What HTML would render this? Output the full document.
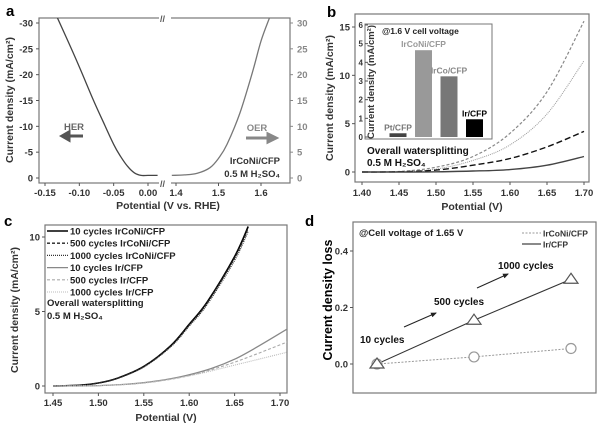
<!DOCTYPE html>
<html><head><meta charset="utf-8"><style>
html,body{margin:0;padding:0;background:#fff}
svg{display:block;font-family:"Liberation Sans",sans-serif;font-weight:bold}
</style></head><body>
<svg id="fig" width="600" height="427" viewBox="0 0 600 427"></svg>
<script>
// ---- data ----
const herV=[-0.132,-0.12,-0.10,-0.08,-0.065,-0.05,-0.04,-0.03,-0.02,-0.01,0.0,0.014];
const herJ=[31,27.5,21.5,15.2,10.8,6.5,4.2,2.3,1.0,0.5,0.5,0.5];
const oerV=[1.39,1.42,1.45,1.48,1.5,1.52,1.55,1.58,1.6,1.62];
const oerJ=[0.5,0.6,0.9,2,3.8,6.5,12.5,20.5,26.5,31];
const bV=[1.40,1.45,1.50,1.55,1.60,1.65,1.70];
const bShortDash=[0,0.05,0.5,1.6,4,8.3,15.6];
const bDotted=[0,0.04,0.3,1.2,2.8,6,11.5];
const bLongDash=[0,0.02,0.2,0.7,1.4,2.6,4.2];
const bSolid=[0,0,0.02,0.1,0.25,0.7,1.6];
const insetCats=["Pt/CFP","IrCoNi/CFP","IrCo/CFP","Ir/CFP"];
const insetVals=[0.2,4.65,3.25,0.95];
const cV=[1.45,1.48,1.50,1.52,1.55,1.58,1.60,1.62,1.65,1.665];
const cIrCoNi=[0,0.05,0.2,0.5,1.3,2.7,4.1,5.6,8.6,10.6];
const cV2=[1.45,1.50,1.55,1.60,1.65,1.71];
const cIr10=[0,0.03,0.22,0.75,1.8,3.9];
const cIr500=[0,0.03,0.2,0.7,1.6,3.0];
const cIr1000=[0,0.03,0.2,0.68,1.4,2.3];
const dCycles=[10,500,1000];
const dIr=[0,0.155,0.3];
const dIrCoNi=[0,0.025,0.055];

const S=document.getElementById('fig');
const NS='http://www.w3.org/2000/svg';
function el(t,a,txt,p){const e=document.createElementNS(NS,t);for(const k in a)e.setAttribute(k,a[k]);if(txt!=null)e.textContent=txt;(p||S).appendChild(e);return e;}
function lin(d0,d1,r0,r1){return v=>r0+(v-d0)*(r1-r0)/(d1-d0);}
function path(xs,ys,fx,fy){return xs.map((x,i)=>(i?'L':'M')+fx(x).toFixed(1)+','+fy(ys[i]).toFixed(1)).join('');}
function spath(xs,ys,fx,fy){
 const P=xs.map((x,i)=>[fx(x),fy(ys[i])]);let d='M'+P[0][0].toFixed(1)+','+P[0][1].toFixed(1);
 for(let i=0;i<P.length-1;i++){const p0=P[Math.max(0,i-1)],p1=P[i],p2=P[i+1],p3=P[Math.min(P.length-1,i+2)];
  const c1=[p1[0]+(p2[0]-p0[0])/6,p1[1]+(p2[1]-p0[1])/6],c2=[p2[0]-(p3[0]-p1[0])/6,p2[1]-(p3[1]-p1[1])/6];
  d+='C'+c1.map(v=>v.toFixed(1)).join(',')+' '+c2.map(v=>v.toFixed(1)).join(',')+' '+p2[0].toFixed(1)+','+p2[1].toFixed(1);}
 return d;}

// panel labels
[['a',6,16],['b',327,17],['c',4,226],['d',305,226]].forEach(l=>{
 const t=el('text',{x:l[1],y:l[2],'font-size':15,fill:'#000'},l[0]);
 
 
});

// ---------- panel a ----------
{
const g=el('g',{});
const yA=lin(0,30,178,23);
const xL=lin(-0.15,0,45,148), xR=lin(1.4,1.6,176,261);
el('rect',{x:39,y:18,width:251,height:165,fill:'none',stroke:'#777','stroke-width':1.2},null,g);
el('rect',{x:159,y:14,width:12,height:8,fill:'#fff'},null,g);
el('rect',{x:159,y:179,width:12,height:8,fill:'#fff'},null,g);
el('text',{x:160,y:22,'font-size':9,fill:'#555'},'//',g);
el('text',{x:160,y:187,'font-size':9,fill:'#555'},'//',g);
for(let v=0;v<=30;v+=5){
 el('line',{x1:36,x2:39,y1:yA(v),y2:yA(v),stroke:'#555'},null,g);
 el('text',{x:33,y:yA(v)+3.5,'font-size':9.5,'text-anchor':'end',fill:'#333'},v?'-'+v:'0',g);
 el('line',{x1:290,x2:293,y1:yA(v),y2:yA(v),stroke:'#888'},null,g);
 el('text',{x:297,y:yA(v)+3.5,'font-size':9.5,fill:'#888'},v,g);
}
[-0.15,-0.10,-0.05,0.00].forEach(v=>{el('line',{x1:xL(v),x2:xL(v),y1:183,y2:186,stroke:'#555'},null,g);
 el('text',{x:xL(v),y:196,'font-size':9.5,'text-anchor':'middle',fill:'#333'},v.toFixed(2),g);});
[1.4,1.5,1.6].forEach(v=>{el('line',{x1:xR(v),x2:xR(v),y1:183,y2:186,stroke:'#555'},null,g);
 el('text',{x:xR(v),y:196,'font-size':9.5,'text-anchor':'middle',fill:'#333'},v.toFixed(1),g);});
el('text',{x:168,y:209,'font-size':10.5,'text-anchor':'middle',fill:'#333'},'Potential (V vs. RHE)',g);
el('text',{transform:'translate(13,100) rotate(-90)','font-size':10.5,'text-anchor':'middle',fill:'#333'},'Current density (mA/cm²)',g);
el('defs',{},null,g).innerHTML='<clipPath id="ca"><rect x="39" y="18" width="251" height="165"/></clipPath>';
const hc=el('path',{d:spath(herV,herJ,xL,yA),fill:'none',stroke:'#444','stroke-width':1.3,'clip-path':'url(#ca)'},null,g);

const oc=el('path',{d:spath(oerV,oerJ,xR,yA),fill:'none',stroke:'#777','stroke-width':1.3,'clip-path':'url(#ca)'},null,g);

el('text',{x:74,y:130,'font-size':9.5,'text-anchor':'middle',fill:'#666'},'HER',g);
el('path',{d:'M83,136 L62,136 M62,136 l7,-4 v8 z',stroke:'#555','stroke-width':3,fill:'#555'},null,g);
el('text',{x:257,y:131,'font-size':9.5,'text-anchor':'middle',fill:'#888'},'OER',g);
el('path',{d:'M246,138 L268,138 M276,138 l-8,-4 v8 z',stroke:'#888','stroke-width':3,fill:'#888'},null,g);
el('text',{x:280,y:164,'font-size':9.5,'text-anchor':'end',fill:'#333'},'IrCoNi/CFP',g);
el('text',{x:280,y:177,'font-size':9.5,'text-anchor':'end',fill:'#333'},'0.5 M H₂SO₄',g);
}

// ---------- panel b ----------
{
const g=el('g',{});
const x=lin(1.40,1.70,362,584), y=lin(0,15,172,27);
el('rect',{x:355,y:14,width:234,height:168,fill:'none',stroke:'#777','stroke-width':1.2},null,g);
[0,5,10,15].forEach(v=>{el('line',{x1:352,x2:355,y1:y(v),y2:y(v),stroke:'#555'},null,g);
 el('text',{x:350,y:y(v)+3.5,'font-size':9.5,'text-anchor':'end',fill:'#333'},v,g);});
[1.40,1.45,1.50,1.55,1.60,1.65,1.70].forEach(v=>{el('line',{x1:x(v),x2:x(v),y1:182,y2:185,stroke:'#555'},null,g);
 el('text',{x:x(v),y:196,'font-size':9.5,'text-anchor':'middle',fill:'#333'},v.toFixed(2),g);});
el('text',{x:472,y:210,'font-size':10.5,'text-anchor':'middle',fill:'#333'},'Potential (V)',g);
el('text',{transform:'translate(333,98) rotate(-90)','font-size':10.5,'text-anchor':'middle',fill:'#333'},'Current density (mA/cm²)',g);
[[bShortDash,'#888','3,2',1.2,'curve-short-dash'],[bDotted,'#999','1,1',1,'curve-dotted'],[bLongDash,'#111','6,3',1.4,'curve-long-dash'],[bSolid,'#444',null,1.4,'curve-solid']].forEach(s=>{
 const a={d:spath(bV,s[0],x,y),fill:'none',stroke:s[1],'stroke-width':s[3]};if(s[2])a['stroke-dasharray']=s[2];
 const p=el('path',a,null,g);});
el('text',{x:367,y:154,'font-size':10,fill:'#111'},'Overall watersplitting',g);
el('text',{x:367,y:166,'font-size':10,fill:'#111'},'0.5 M H₂SO₄',g);
// inset
const ig=el('g',{},null,g);
el('rect',{x:365,y:24,width:127,height:115,fill:'#fff',stroke:'#777','stroke-width':1},null,ig);
const iy=lin(0,6,137,25);
for(let v=0;v<=6;v++){el('line',{x1:365,x2:368,y1:iy(v),y2:iy(v),stroke:'#555'},null,ig);
 el('text',{x:363,y:iy(v)+3,'font-size':8,'text-anchor':'end',fill:'#333'},v,ig);}
el('text',{transform:'translate(374,82) rotate(-90)','font-size':9.5,'text-anchor':'middle',fill:'#333'},'Current density (mA/cm²)',ig);
el('text',{x:382,y:34,'font-size':8.5,fill:'#222'},'@1.6 V cell voltage',ig);
const cols=['#444','#999','#777','#000'],lcol=['#777','#999','#888','#000'];
insetCats.forEach((c,i)=>{const cx=398+i*25.5;
 const r=el('rect',{x:cx-8.5,y:iy(insetVals[i]),width:17,height:iy(0)-iy(insetVals[i]),fill:cols[i]},null,ig);
 
 el('text',{x:cx,y:iy(insetVals[i])-3,'font-size':8.5,'text-anchor':'middle',fill:lcol[i]},c,ig);});
}

// ---------- panel c ----------
{
const g=el('g',{});
const x=lin(1.45,1.70,53,280), y=lin(0,10,386,237);
el('defs',{},null,g).innerHTML='<clipPath id="cc"><rect x="45" y="225" width="242" height="168"/></clipPath>';
el('rect',{x:45,y:225,width:242,height:168,fill:'none',stroke:'#777','stroke-width':1.2},null,g);
[0,5,10].forEach(v=>{el('line',{x1:42,x2:45,y1:y(v),y2:y(v),stroke:'#555'},null,g);
 el('text',{x:40,y:y(v)+3.5,'font-size':9.5,'text-anchor':'end',fill:'#333'},v,g);});
[1.45,1.50,1.55,1.60,1.65,1.70].forEach(v=>{el('line',{x1:x(v),x2:x(v),y1:393,y2:396,stroke:'#555'},null,g);
 el('text',{x:x(v),y:406,'font-size':9.5,'text-anchor':'middle',fill:'#333'},v.toFixed(2),g);});
el('text',{x:166,y:421,'font-size':10.5,'text-anchor':'middle',fill:'#333'},'Potential (V)',g);
el('text',{transform:'translate(18,310) rotate(-90)','font-size':10.5,'text-anchor':'middle',fill:'#333'},'Current density (mA/cm²)',g);
const cg=el('g',{'clip-path':'url(#cc)'},null,g);
const ser=[[cV,cIrCoNi.map(v=>v*1.01),'#000',null,1.6,'10 cycles IrCoNi/CFP'],[cV,cIrCoNi,'#222','3,2',1.3,'500 cycles IrCoNi/CFP'],[cV,cIrCoNi.map(v=>v*0.98),'#333','1,1',1.2,'1000 cycles IrCoNi/CFP'],
[cV2,cIr10,'#888',null,1.3,'10 cycles Ir/CFP'],[cV2,cIr500,'#aaa','3,2',1.1,'500 cycles Ir/CFP'],[cV2,cIr1000,'#bbb','1,1',1.1,'1000 cycles Ir/CFP']];
ser.forEach((s,i)=>{const a={d:spath(s[0],s[1],x,y),fill:'none',stroke:s[2],'stroke-width':s[4]};if(s[3])a['stroke-dasharray']=s[3];
 const p=el('path',a,null,cg);
 const ly=231+i*12.2;
 const la={x1:47,x2:68,y1:ly,y2:ly,stroke:s[2],'stroke-width':s[4]};if(s[3])la['stroke-dasharray']=s[3];
 el('line',la,null,g);
 const t=el('text',{x:70,y:ly+3.5,'font-size':9.5,fill:'#222'},s[5],g);
 });
el('text',{x:47,y:306,'font-size':9.5,fill:'#222'},'Overall watersplitting',g);
el('text',{x:47,y:319,'font-size':9.5,fill:'#222'},'0.5 M H₂SO₄',g);
}

// ---------- panel d ----------
{
const g=el('g',{});
const xi=i=>377+i*97, y=lin(0,0.4,364,251);
el('rect',{x:353,y:222,width:243,height:171,fill:'none',stroke:'#777','stroke-width':1.2},null,g);
[0,0.2,0.4].forEach(v=>{el('line',{x1:350,x2:353,y1:y(v),y2:y(v),stroke:'#555'},null,g);
 el('text',{x:348,y:y(v)+3.5,'font-size':9.5,'text-anchor':'end',fill:'#333'},v.toFixed(1),g);});
el('text',{transform:'translate(332,300) rotate(-90)','font-size':12.5,'text-anchor':'middle',fill:'#000'},'Current density loss',g);
el('text',{x:359,y:236,'font-size':9.5,fill:'#222'},'@Cell voltage of 1.65 V',g);
el('line',{x1:522,x2:541,y1:233,y2:233,stroke:'#999','stroke-dasharray':'2,1.5'},null,g);
el('text',{x:543,y:236.5,'font-size':8.5,fill:'#333'},'IrCoNi/CFP',g);
el('line',{x1:522,x2:541,y1:244,y2:244,stroke:'#444','stroke-width':1.2},null,g);
el('text',{x:543,y:247.5,'font-size':8.5,fill:'#333'},'Ir/CFP',g);
const x=i=>xi(dCycles.indexOf(i));
el('path',{d:path(dCycles,dIrCoNi,x,y),fill:'none',stroke:'#999','stroke-dasharray':'2,1.5'},null,g);
el('path',{d:path(dCycles,dIr,x,y),fill:'none',stroke:'#333','stroke-width':1.1},null,g);
dCycles.forEach((c,i)=>{
 const ci=el('circle',{cx:x(c),cy:y(dIrCoNi[i]),r:5,fill:'#fff',stroke:'#999','stroke-width':1.2},null,g);
 
 const px=x(c),py=y(dIr[i]);
 const tr=el('path',{d:`M${px},${py-6} L${px+7},${py+4} L${px-7},${py+4} Z`,fill:'#fff',stroke:'#555','stroke-width':1.2},null,g);
 });
el('text',{x:360,y:343,'font-size':10,fill:'#111'},'10 cycles',g);
el('text',{x:434,y:305,'font-size':10,fill:'#111'},'500 cycles',g);
el('text',{x:498,y:269,'font-size':10,fill:'#111'},'1000 cycles',g);
el('defs',{},null,g).innerHTML='<marker id="ah" markerWidth="6" markerHeight="6" refX="5" refY="3" orient="auto"><path d="M0,0.5 L6,3 L0,5.5 z" fill="#222"/></marker>';
el('line',{x1:404,y1:327,x2:436,y2:313,stroke:'#222','marker-end':'url(#ah)'},null,g);
el('line',{x1:477,y1:288,x2:508,y2:274,stroke:'#222','marker-end':'url(#ah)'},null,g);
}
</script>
</body></html>
